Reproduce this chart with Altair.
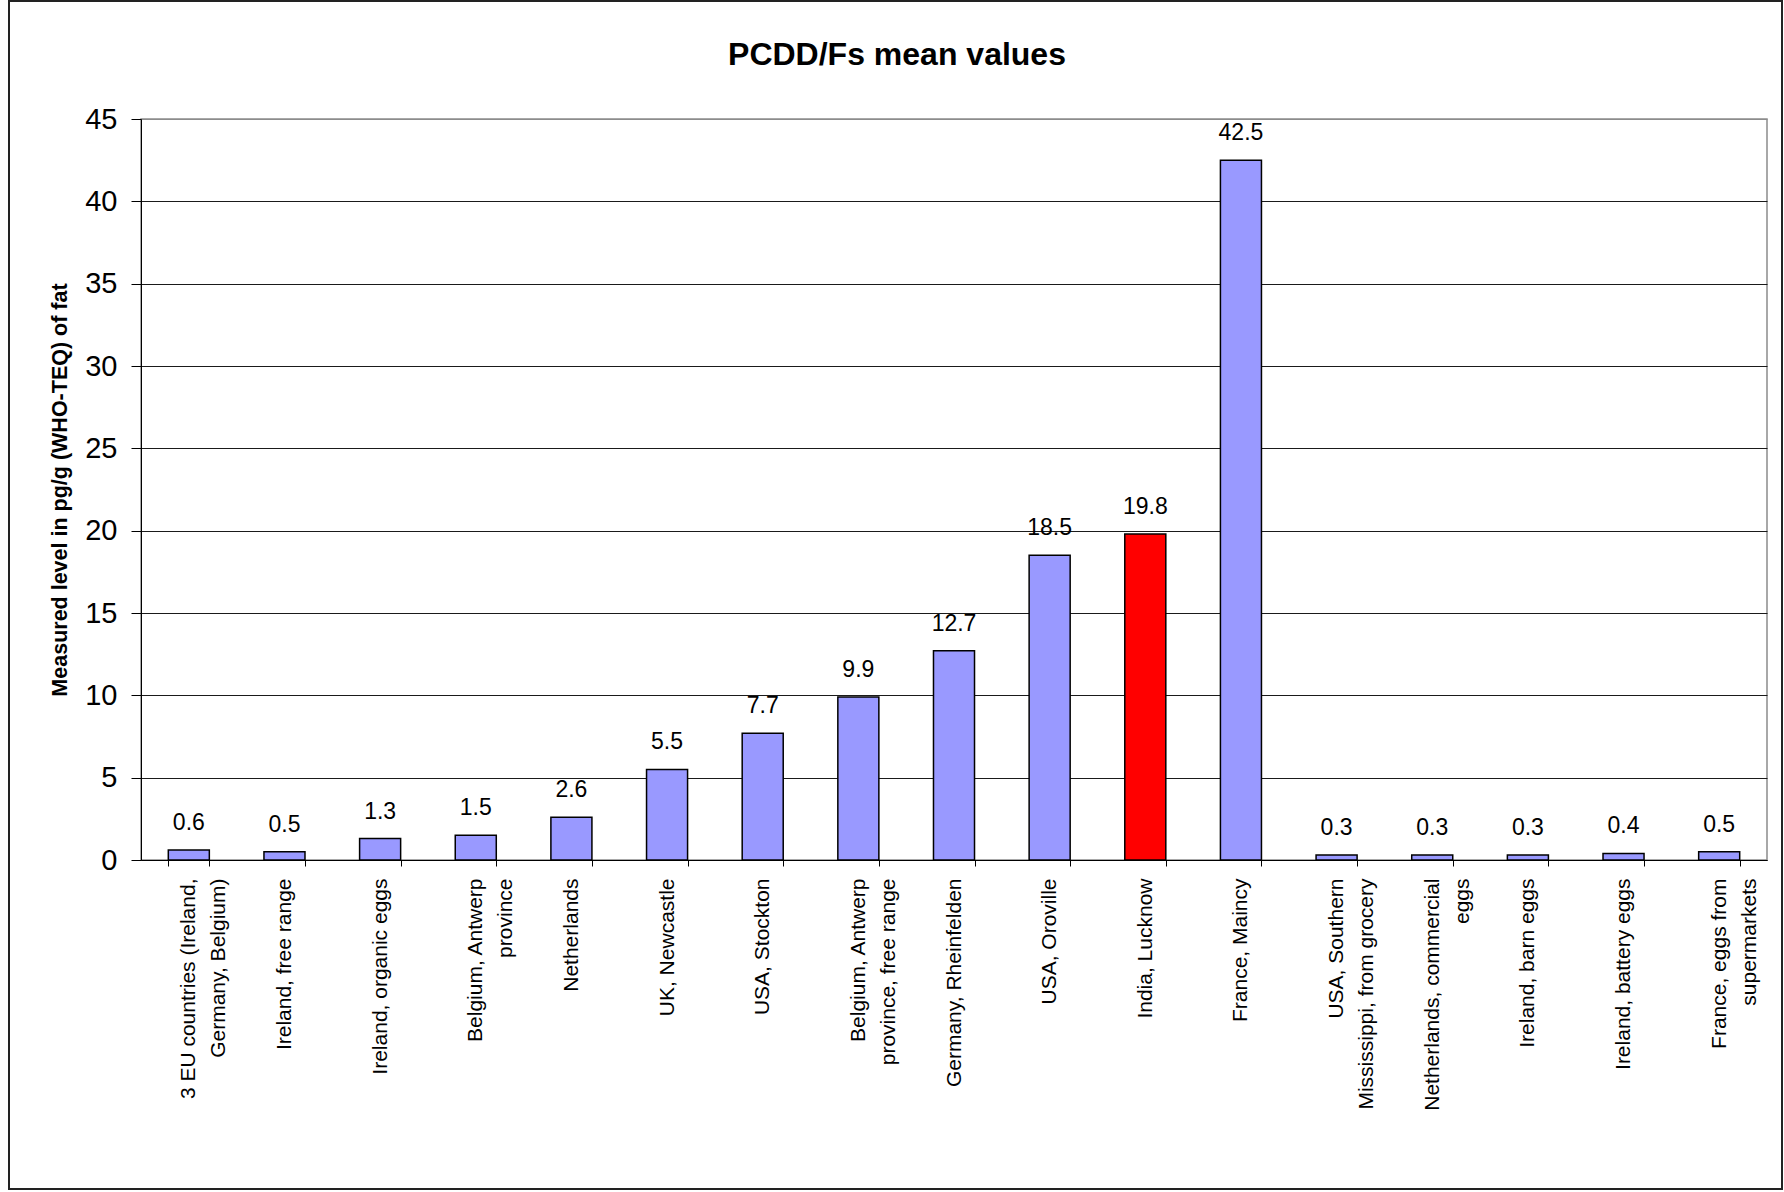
import altair as alt
import pandas as pd

# Sampling sites (line breaks mark where the axis label wraps)
sites = [
    "3 EU countries (Ireland,\nGermany, Belgium)",
    "Ireland, free range",
    "Ireland, organic eggs",
    "Belgium, Antwerp\nprovince",
    "Netherlands",
    "UK, Newcastle",
    "USA, Stockton",
    "Belgium, Antwerp\nprovince, free range",
    "Germany, Rheinfelden",
    "USA, Oroville",
    "India, Lucknow",
    "France, Maincy",
    "USA, Southern\nMississippi, from grocery",
    "Netherlands, commercial\neggs",
    "Ireland, barn eggs",
    "Ireland, battery eggs",
    "France, eggs from\nsupermarkets",
]
# Mean PCDD/F levels, pg/g (WHO-TEQ) of fat
mean_levels = [0.6, 0.5, 1.3, 1.5, 2.6, 5.5, 7.7, 9.9, 12.7, 18.5, 19.8, 42.5,
               0.3, 0.3, 0.3, 0.4, 0.5]
highlight = ["India, Lucknow"]

df = pd.DataFrame({"site": sites, "level": mean_levels})
df["group"] = ["focus" if s in highlight else "other" for s in sites]

FONT = "Liberation Sans"
W, H = 1626, 741

x_enc = alt.X(
    "site:N",
    sort=sites,
    scale=alt.Scale(paddingInner=0.571, paddingOuter=0.2855),
    axis=alt.Axis(
        title=None,
        labelAngle=-90,
        labelAlign="right",
        labelBaseline="middle",
        labelExpr="split(datum.label, '\\n')",
        labelFont=FONT,
        labelFontSize=21,
        labelLineHeight=30,
        labelColor="black",
        labelLimit=0,
        labelPadding=12,
        tickBand="extent",
        tickSize=6,
        tickColor="black",
        domainColor="black",
        grid=False,
    ),
)
y_enc = alt.Y(
    "level:Q",
    scale=alt.Scale(domain=[0, 45], nice=False),
    axis=alt.Axis(
        title="Measured level in pg/g (WHO-TEQ) of fat",
        titleFont=FONT,
        titleFontSize=21.5,
        titleFontWeight="bold",
        titleColor="black",
        titlePadding=13,
        values=list(range(0, 50, 5)),
        labelFont=FONT,
        labelFontSize=29,
        labelColor="black",
        labelPadding=14,
        tickSize=10,
        tickColor="black",
        domainColor="black",
        grid=True,
        gridColor=alt.condition("datum.value == 45", alt.value("#8c8c8c"), alt.value("#1a1a1a")),
        gridWidth=1,
    ),
)

bars = alt.Chart(df).mark_bar(stroke="black", strokeWidth=1.5).encode(
    x=x_enc,
    y=y_enc,
    color=alt.Color(
        "group:N",
        scale=alt.Scale(domain=["other", "focus"], range=["#9999FF", "#FF0000"]),
        legend=None,
    ),
)

labels = alt.Chart(df).mark_text(
    font=FONT, fontSize=23, baseline="alphabetic", dy=-20, color="black"
).encode(
    x=alt.X("site:N", sort=sites),
    y="level:Q",
    text=alt.Text("level:Q", format=".1f"),
)

# Outer frame around the whole figure
frame = alt.Chart(pd.DataFrame({"k": [0]})).mark_rect(
    fill=None, stroke="#222222", strokeWidth=2, clip=False
).encode(
    x=alt.value(-132), x2=alt.value(1641),
    y=alt.value(-118), y2=alt.value(1070),
)

chart = alt.layer(bars, labels, frame).properties(
    width=W,
    height=H,
    title=alt.TitleParams(
        "PCDD/Fs mean values",
        font=FONT,
        fontSize=32,
        fontWeight="bold",
        color="black",
        anchor="middle",
        frame="group",
        dx=-57,
        baseline="alphabetic",
        offset=-97,
    ),
    autosize=alt.AutoSizeParams(type="none"),
    padding={"left": 141, "top": 119, "right": 17, "bottom": 332},
    background="white",
).configure_view(stroke="#8c8c8c", strokeWidth=1.5)

chart.save("out.html", embed_options={"renderer": "svg", "actions": False})
